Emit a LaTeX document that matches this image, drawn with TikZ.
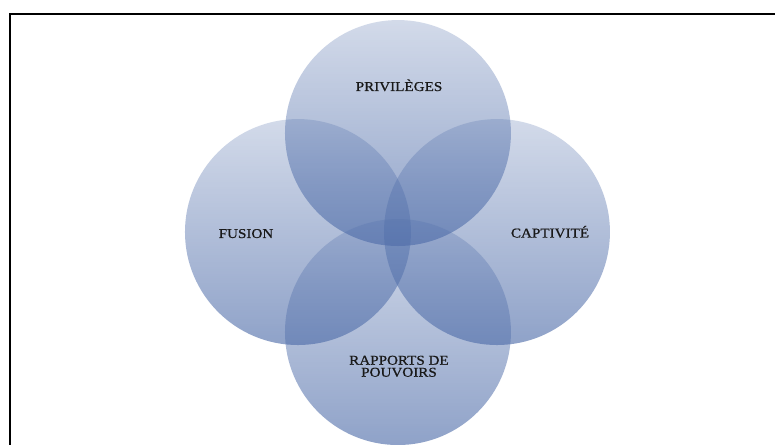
\documentclass[tikz,border=0pt]{standalone}
\usepackage{fontspec}
\setmainfont{Liberation Serif}[FakeStretch=1.12,FakeBold=0.8]
\usetikzlibrary{fadings}
\begin{document}
\begin{tikzpicture}[x=1pt,y=1pt,
  venn/.style={fill=vblue, path fading=vfade, fit fading=true},
  lbl/.style={anchor=base, inner sep=0pt, text=black!90, align=center,
    font=\fontsize{13.5}{12}\selectfont}]
\definecolor{vblue}{RGB}{80,110,170}
\tikzfading[name=vfade, top color=transparent!75, bottom color=transparent!36]
\useasboundingbox (0,0) rectangle (775,444);
\fill[white] (0,0) rectangle (775,444);
\draw[line width=2pt] (10,-20) -- (10,430) -- (790,430);
\fill[venn] (398,311) circle (113);
\fill[venn] (298,212) circle (113);
\fill[venn] (497,212) circle (113);
\fill[venn] (398,112) circle (113);
\node[lbl] (tl) at (399,353) {PRIVILÈGES};
\node[lbl] (ll) at (246,206) {FUSION};
\node[lbl] (rl) at (550,206.5) {CAPTIVITÉ};
\node[lbl] (bl) at (399,67.3) {RAPPORTS DE\\POUVOIRS};
\end{tikzpicture}
\end{document}
